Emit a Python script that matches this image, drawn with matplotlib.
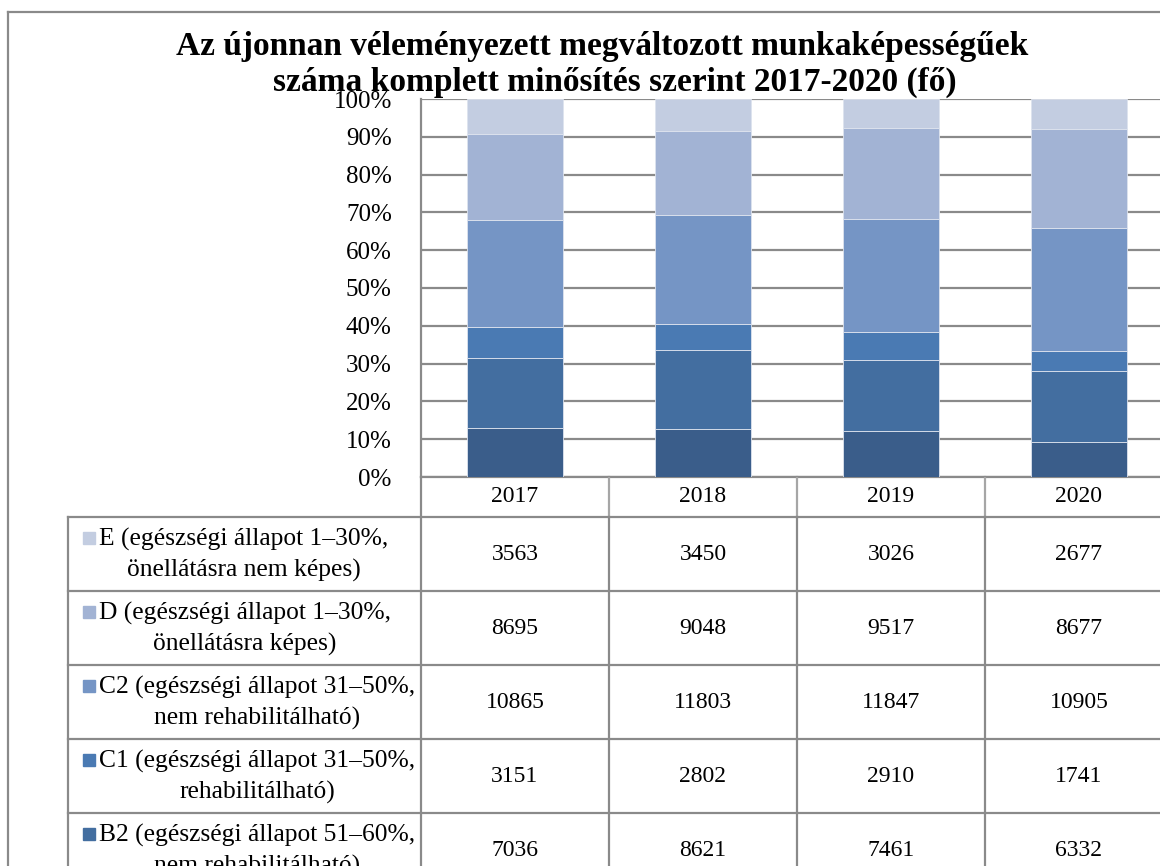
import numpy as np
import matplotlib.pyplot as plt
from matplotlib.transforms import blended_transform_factory
from matplotlib.patches import Rectangle

plt.rcParams['font.family'] = ['Liberation Serif', 'DejaVu Serif']

years = ['2017', '2018', '2019', '2020']
# stacking order, bottom to top
series = ['B1', 'B2', 'C1', 'C2', 'D', 'E']
labels = ['B1 (egészségi állapot 51–60%,\nrehabilitálható)',
          'B2 (egészségi állapot 51–60%,\nnem rehabilitálható)',
          'C1 (egészségi állapot 31–50%,\nrehabilitálható)',
          'C2 (egészségi állapot 31–50%,\nnem rehabilitálható)',
          'D (egészségi állapot 1–30%,\nönellátásra képes)',
          'E (egészségi állapot 1–30%,\nönellátásra nem képes)']
b1 = [5000, 5150, 4800, 3050]   # row cut off in the picture, estimated from bars
b2 = [7036, 8621, 7461, 6332]
c1 = [3151, 2802, 2910, 1741]
c2 = [10865, 11803, 11847, 10905]
d = [8695, 9048, 9517, 8677]
e = [3563, 3450, 3026, 2677]
colors = ['#3a5d8a', '#436ea0', '#4a7ab3', '#7595c5', '#a2b3d4', '#c3cde1']

values = np.array([b1, b2, c1, c2, d, e], dtype=float)
shares = values / values.sum(axis=0) * 100

W, H = 1160, 866
fig = plt.figure(figsize=(W / 100, H / 100), dpi=100)

grey = '#8a8a8a'

# overlay in pixel coordinates for border and data table
tab = fig.add_axes([0, 0, 1, 1])
tab.set_xlim(0, W)
tab.set_ylim(H, 0)
tab.axis('off')

ax = fig.add_axes([421 / W, (H - 477) / H, (1173 - 421) / W, (477 - 99) / H])
x = np.arange(len(years))
bottom = np.zeros(len(years))
for s, c in zip(shares, colors):
    ax.bar(x, s, width=0.51, bottom=bottom, color=c, edgecolor='#dde3ee',
           linewidth=0.6, zorder=3)
    bottom += s

ax.set_xlim(-0.5, len(years) - 0.5)
ax.set_ylim(0, 100)
ax.set_yticks(np.arange(0, 101, 10))
ax.set_yticklabels([f'{v}%' for v in range(0, 101, 10)])
ax.set_xticks([])
ax.tick_params(axis='y', length=0, pad=21, labelsize=18)
ax.grid(axis='y', color=grey, linewidth=1.6, zorder=0)
ax.set_axisbelow(True)
for side in ['top', 'right', 'bottom']:
    ax.spines[side].set_visible(False)
ax.spines['left'].set_color(grey)
ax.spines['left'].set_linewidth(1.6)
ax.patch.set_alpha(0)

fig.text(602 / W, 1 - 55 / H, 'Az újonnan véleményezett megváltozott munkaképességűek',
         ha='center', va='baseline', fontsize=24, fontweight='bold')
fig.text(615 / W, 1 - 91 / H, 'száma komplett minősítés szerint 2017-2020 (fő)',
         ha='center', va='baseline', fontsize=24, fontweight='bold')

# chart border
tab.plot([8, 8], [12, H], color=grey, lw=1.6)
tab.plot([8, W], [12, 12], color=grey, lw=1.6)

# data table: x follows the bar axis categories, y in pixels
tr = blended_transform_factory(ax.transData, tab.transData)
head_top, head_bot, row_h = 477, 517, 74
edges = np.arange(len(years) + 1) - 0.5

tab.plot([-0.5, len(years) - 0.5], [head_top, head_top], color=grey, lw=1.6, transform=tr)
for xe in edges[1:-1]:
    tab.plot([xe, xe], [head_top, head_bot], color='#a6a6a6', lw=1.6, transform=tr)
tab.plot([-0.5, -0.5], [head_top, H + 200], color=grey, lw=1.6, transform=tr)
for i, yr in enumerate(years):
    tab.text(i, (head_top + head_bot) / 2, yr, transform=tr, ha='center',
             va='center', fontsize=17)

rows = list(range(len(series)))[::-1]
n_rows = len(rows)
tab.plot([68, 68], [head_bot, head_bot + row_h * n_rows], color=grey, lw=1.6)
for k in range(n_rows + 1):
    yk = head_bot + k * row_h
    tab.plot([68, W], [yk, yk], color=grey, lw=1.6)
for xe in edges[1:]:
    tab.plot([xe, xe], [head_bot, head_bot + row_h * n_rows], color=grey, lw=1.6,
             transform=tr)

for k, si in enumerate(rows):
    yc = head_bot + k * row_h + row_h / 2
    tab.add_patch(Rectangle((83, yc - 22), 12, 12, color=colors[si]))
    tab.text(99, yc + 1, labels[si], ha='left', va='center', ma='center',
             fontsize=18.4, linespacing=1.42)
    for i in range(len(years)):
        tab.text(i, yc, f'{int(values[si, i])}', transform=tr, ha='center',
                 va='center', fontsize=17)

fig.savefig('out.png', dpi=100)
